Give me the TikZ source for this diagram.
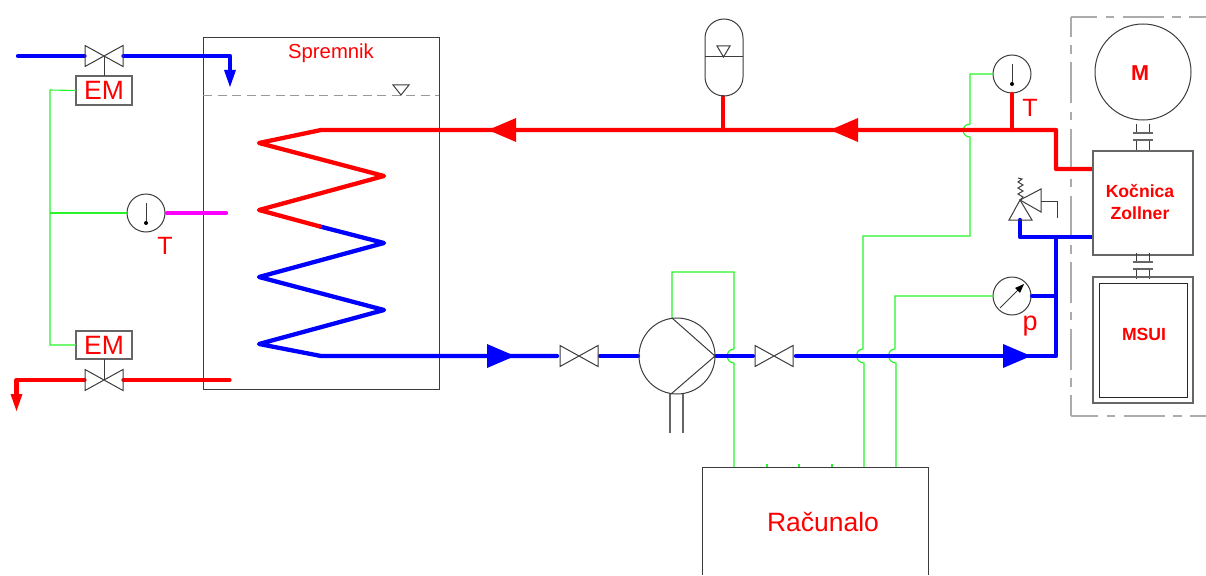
\documentclass[tikz,border=0pt]{standalone}
\usepackage{fontspec}
\setmainfont{Liberation Sans}
\definecolor{sig}{RGB}{40,245,40}
\definecolor{mag}{RGB}{255,0,255}
\definecolor{outl}{RGB}{60,60,60}
\tikzset{
  x=1pt,y=-1pt,
  pipe/.style={line width=4.3pt,line join=round,line cap=round},
  bluepipe/.style={pipe,draw=blue},
  redpipe/.style={pipe,draw=red},
  signal/.style={draw=sig,line width=1.1pt},
  thin line/.style={draw=outl,line width=1pt},
  boxn/.style={draw=outl,line width=1pt,rectangle,inner sep=0pt,outer sep=0pt},
  hboxn/.style={draw=black!60,line width=1.4pt,rectangle,inner sep=0pt,outer sep=0pt},
  dialn/.style={draw=outl,line width=1pt,circle,inner sep=0pt,outer sep=0pt,minimum size=38pt},
  lab/.style={text=red,inner sep=0pt,outer sep=0pt},
  framedash/.style={draw=gray!65,line width=1.2pt,dash pattern=on 41pt off 8.5pt on 8.5pt off 8.5pt},
  valve/.pic={\draw[thin line,line join=miter] (-19,-10.5)--(19,10.5)--(19,-10.5)--(-19,10.5)--cycle;},
  rarrow/.pic={\fill (-14,-12)--(14,0)--(-14,12)--cycle;},
  larrow/.pic={\fill (14,-12)--(-14,0)--(14,12)--cycle;},
  darrow/.pic={\fill (-6,-17)--(6,-17)--(0,0)--cycle;},
  thermo/.pic={\draw[thin line] (0,-10)--(0,10);\fill[black] (0,10) circle (2);},
  shaft/.pic={\draw[thin line] (-6.3,-12)--(-6.3,-2.5) (6.3,-12)--(6.3,-2.5) (-6.3,4.5)--(-6.3,14) (6.3,4.5)--(6.3,14);\draw[draw=black!60,line width=1.3pt] (-10,-2.5)--(10,-2.5) (-10,4.5)--(10,4.5);},
}
\begin{document}
\begin{tikzpicture}
\useasboundingbox (0,0) rectangle (1206,575);
% main boxes
\node[boxn,minimum width=236pt,minimum height=351pt] (tank) at (321,213.5) {};
\node[lab,font=\fontsize{20.3}{22}\selectfont] (tanklab) at (331,53.5) {Spremnik};
\coordinate (lvlL) at (203,96); \coordinate (lvlR) at (439,96);
\draw[draw=gray!80,line width=1pt,dash pattern=on 9pt off 5.5pt] (lvlL)--(lvlR);
\draw[thin line,line join=miter] (393,85)--(409,85)--(401,95)--cycle;
% outer dashed frame
\coordinate (frTR) at (1206,17); \coordinate (frTL) at (1071,17); \coordinate (frBL) at (1071,416); \coordinate (frBR) at (1206,416);
\draw[framedash,dash phase=15pt] (frTL)--(frTR);
\draw[framedash,dash phase=21pt] (frTL)--(frBL);
\draw[framedash,dash phase=14pt] (frBL)--(frBR);
% computer
\node[minimum width=226pt,minimum height=108pt,inner sep=0pt,outer sep=0pt] (comp) at (815,521) {};
\draw[thin line,line join=miter] (comp.south west)--(comp.north west)--(comp.north east)--(comp.south east);
\node[lab,font=\fontsize{26.5}{28}\selectfont] (complab) at (823,522) {Računalo};
% signals
\coordinate (s1) at (50,90); \coordinate (s2) at (50,345); \coordinate (s3) at (50,213);
\coordinate (hA1) at (734,349); \coordinate (hA2) at (734,363);
\coordinate (hB1) at (863,349); \coordinate (hB2) at (864,363);
\coordinate (hC1) at (895,349); \coordinate (hC2) at (896,363);
\coordinate (hD1) at (970,124); \coordinate (hD2) at (970,137);
\coordinate (pT) at (672,318);
\node[hboxn,minimum width=56pt,minimum height=29pt,font=\fontsize{26.5}{28}\selectfont,text=red] (em1) at (104,90.5) {EM};
\node[hboxn,minimum width=56pt,minimum height=28pt,font=\fontsize{26.5}{28}\selectfont,text=red] (em2) at (104,345) {EM};
\node[dialn] (th1) at (146,213) {};
\node[dialn] (th2) at (1012,74) {};
\node[dialn] (pg) at (1012,296) {};
\draw[signal] (em1.west)--(s1)--(s2)--(em2.west);
\draw[signal] (s3)--(th1.west);
\draw[signal] (pT)--(672,272)--(734,272)--(hA1) .. controls +(-9,0) and +(-9,0) .. (hA2)--(734,467);
\draw[signal] (th2.west)--(970,74)--(hD1) .. controls +(-9,0) and +(-9,0) .. (hD2)--(970,236)--(863,236)--(hB1) .. controls +(-9,0) and +(-9,0) .. (hB2)--(864,467);
\draw[signal] (pg.west)--(895,296)--(hC1) .. controls +(-9,0) and +(-9,0) .. (hC2)--(896,467);
\draw[signal] (767,464)--(767,467) (799,464)--(799,467) (832,464)--(832,467);
% coordinates of pipe points
\coordinate (coilTop) at (321,130); \coordinate (coilMid) at (320,226.5); \coordinate (coilBot) at (321,356);
\coordinate (v1) at (104,56); \coordinate (v2) at (104,380); \coordinate (v3) at (579,356); \coordinate (v4) at (774,356);
% blue
\draw[bluepipe] (18,56)--(84.5,56);
\draw[bluepipe] (123.5,56)--(230,56)--(230,72);
\pic[blue] at (230,87) {darrow};
\draw[bluepipe] (coilMid)--(384,243)--(259,277)--(384,310)--(259,344)--(coilBot)--(557,356);
\draw[bluepipe] (600,356)--(638,356);
\draw[bluepipe] (716,356)--(753,356);
\draw[bluepipe] (796,356)--(1056,356)--(1056,237);
\draw[bluepipe] (1092,237)--(1020,237)--(1020,220);
\draw[bluepipe] (1032,296)--(1056,296);
\pic[blue] at (501,356) {rarrow};
\pic[blue] at (1017,356) {rarrow};
% red
\draw[redpipe] (coilMid)--(259,210)--(384,176)--(259,143)--(coilTop)--(1056,130)--(1056,169)--(1092,169);
\draw[redpipe] (723,97)--(723,130);
\draw[redpipe] (1012,94)--(1012,130);
\draw[redpipe] (84.5,380)--(16.5,380)--(16.5,398);
\pic[red] at (16.5,411) {darrow};
\draw[redpipe] (123.5,380)--(229.5,380);
\pic[red] at (502,130) {larrow};
\pic[red] at (844,130) {larrow};
% magenta
\draw[pipe,draw=mag] (167,213)--(226,213);
% valves
\pic at (v1) {valve}; \pic at (v2) {valve}; \pic at (v3) {valve}; \pic at (v4) {valve};
\draw[thin line] (v1)--(em1.north);
\draw[thin line] (v2)--(em2.south);
% thermometers, gauge
\pic at (th1) {thermo};
\pic at (th2) {thermo};
\node[lab,font=\fontsize{25}{26}\selectfont] (t1) at (165,246) {T};
\node[lab,font=\fontsize{25}{26}\selectfont] (t2) at (1030,108) {T};
\node[lab,font=\fontsize{27}{28}\selectfont] at (1030,326) {p};
\draw[thin line] (1000,308)--(1023,285);
\fill[black] (1024,284)--(1020,293)--(1015,288)--cycle;
% pump
\node[dialn,minimum size=76pt] (pump) at (677,356) {};
\draw[thin line,line join=miter] (pT)--(pump.east)--(671,394);
\draw[draw=black!60,line width=1.2pt] (670,394)--(670,433) (683,394)--(683,433);
% accumulator
\draw[thin line] (705,38) arc (180:360:19) -- (743,77) arc (0:180:19) -- cycle;
\draw[thin line] (705,57)--(743,57);
\draw[thin line,line join=miter] (717,46)--(730,46)--(723.5,57)--cycle;
% machine stack
\node[dialn,minimum size=96pt] (motor) at (1143,72) {};
\node[lab,font=\bfseries\fontsize{21.6}{23}\selectfont] at (1140,73) {M};
\pic at (1143,135.5) {shaft};
\node[hboxn,minimum width=100pt,minimum height=104pt] (brake) at (1143,203) {};
\node[lab,font=\bfseries\fontsize{17.6}{22}\selectfont,align=center] at (1140,202) {Kočnica\\Zollner};
\pic at (1143,264.5) {shaft};
\node[hboxn,minimum width=100pt,minimum height=126pt] (msui) at (1143,340) {};
\node[boxn,draw=black!85,fill=white,minimum width=88pt,minimum height=114pt] (msuii) at (1143,340) {};
\node[lab,font=\bfseries\fontsize{17.6}{19}\selectfont] at (1144,334) {MSUI};
% safety valve
\draw[thin line,line join=miter] (1020,200)--(1009,220)--(1032,220)--cycle;
\draw[thin line,line join=miter] (1020,200)--(1041,189)--(1041,212)--cycle;
\draw[thin line,line join=miter] (1020,200)--(1023,197)--(1018,194)--(1023,191)--(1018,188)--(1023,185)--(1018,182)--(1022,179)--(1018,178);
\draw[thin line] (1041,201)--(1057,201)--(1057,218);
\end{tikzpicture}
\end{document}
